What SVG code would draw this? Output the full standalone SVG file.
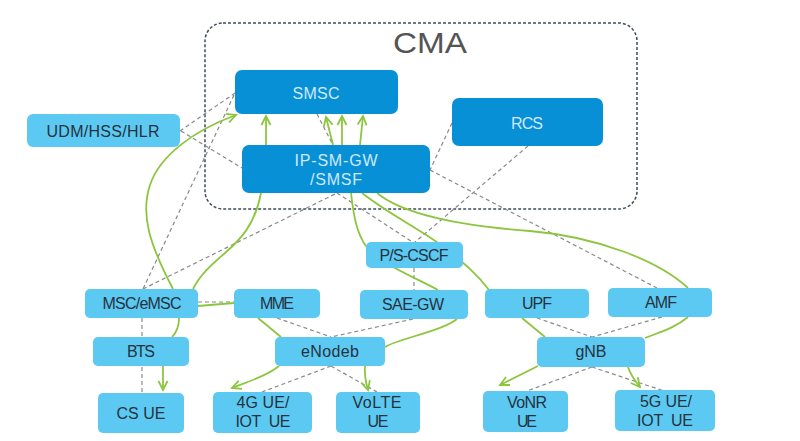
<svg xmlns="http://www.w3.org/2000/svg" width="800" height="441" viewBox="0 0 800 441">
<defs>
<style>
.dark{fill:#0890d6}
.light{fill:#5cc9f2}
.tl{font-family:"Liberation Sans",Arial,sans-serif;font-size:16px;fill:#25323d;text-anchor:middle}
.td{font-family:"Liberation Sans",Arial,sans-serif;font-size:16px;fill:#cfe9fa;text-anchor:middle}
.g{fill:none;stroke:#8cc63f;stroke-width:1.8}
.d{fill:none;stroke:#8a8a8a;stroke-width:1.2;stroke-dasharray:4 3}
.ga{marker-end:url(#arr)}
</style>
<marker id="arr" markerUnits="userSpaceOnUse" markerWidth="12" markerHeight="12" viewBox="0 0 12 12" refX="10" refY="6" orient="auto">
<path d="M1,1.5 L10,6 L1,10.5" fill="none" stroke="#8cc63f" stroke-width="1.8"/>
</marker>
</defs>
<rect width="800" height="441" fill="#ffffff"/>
<g id="cma">
<rect x="205" y="23" width="432" height="186" rx="18" fill="none" stroke="#3e4c5c" stroke-width="1.5" stroke-dasharray="3 2"/>
<text x="430" y="53" font-family="Liberation Sans,Arial,sans-serif" font-size="29" fill="#555" text-anchor="middle" textLength="74" lengthAdjust="spacingAndGlyphs">CMA</text>
</g>
<g id="connectors">
<path class="d" d="M180 131 L235 93"/>
<path class="d" d="M181 131 L242 168"/>
<path class="d" d="M234 95 L143 289"/>
<path class="d" d="M143 289 L337 193"/>
<path class="d" d="M337 193 L414 243"/>
<path class="d" d="M528 146 L414 243"/>
<path class="d" d="M452 123 L430 170"/>
<path class="d" d="M430 170 L657 288"/>
<path class="d" d="M317 114 L333 145"/>
<path class="d" d="M198 302 L234 302"/>
<path class="d" d="M142 318 L142 393"/>
<path class="d" d="M414 268 L414 290"/>
<path class="d" d="M277 318 L331 337"/>
<path class="d" d="M413 319 L331 337"/>
<path class="d" d="M331 366 L262 392"/>
<path class="d" d="M331 366 L377 392"/>
<path class="d" d="M537 318 L592 337"/>
<path class="d" d="M662 317 L592 337"/>
<path class="d" d="M592 367 L527 391"/>
<path class="d" d="M592 367 L664 391"/>
<path class="g ga" d="M266 145 L266 116"/>
<path class="g ga" d="M333 145 L326 117"/>
<path class="g ga" d="M342 145 L342 116"/>
<path class="g ga" d="M360 145 L363 116"/>
<path class="g ga" d="M173 289 C150 245 140 215 150 185 C160 155 195 130 236 115"/>
<path class="g" d="M261 193 C255 225 240 240 225 253 C210 266 200 275 193 289"/>
<path class="g" d="M198 306 L234 303"/>
<path class="g" d="M179 318 C179 328 176 333 172 337"/>
<path class="g ga" d="M163 366 L163 390"/>
<path class="g" d="M258 318 L281 337"/>
<path class="g ga" d="M279 366 C268 375 250 381 232 388"/>
<path class="g ga" d="M365 366 C364 376 366 383 368 390"/>
<path class="g" d="M457 319 C440 332 400 338 385 347"/>
<path class="g" d="M351 193 C354 220 358 240 372 253 C386 266 420 280 438 290"/>
<path class="g" d="M362 193 C390 215 425 232 445 248 C465 264 478 275 489 290"/>
<path class="g" d="M377 193 C400 212 450 225 530 231 C600 237 660 262 688 288"/>
<path class="g" d="M688 317 C675 328 660 332 645 338"/>
<path class="g" d="M522 318 L545 337"/>
<path class="g ga" d="M538 366 L500 385"/>
<path class="g ga" d="M628 367 C631 376 635 381 640 387"/>
</g>
<g id="smsc"><rect class="dark" x="235" y="70" width="163" height="44" rx="7"/><text class="td" x="316" y="99" textLength="47">SMSC</text></g>
<g id="rcs"><rect class="dark" x="452" y="98" width="151" height="48" rx="7"/><text class="td" x="527" y="129" textLength="32">RCS</text></g>
<g id="ipsmgw"><rect class="dark" x="242" y="145" width="188" height="48" rx="7"/><text class="td" x="336" y="166" textLength="83">IP-SM-GW</text><text class="td" x="336" y="185" textLength="52">/SMSF</text></g>
<g id="udm"><rect class="light" x="27" y="114" width="153" height="33" rx="6"/><text class="tl" x="103" y="137" textLength="113">UDM/HSS/HLR</text></g>
<g id="pscscf"><rect class="light" x="366" y="242" width="97" height="26" rx="5"/><text class="tl" x="414" y="261" textLength="69">P/S-CSCF</text></g>
<g id="msc"><rect class="light" x="85" y="289" width="113" height="29" rx="5"/><text class="tl" x="142" y="309" textLength="79">MSC/eMSC</text></g>
<g id="mme"><rect class="light" x="234" y="289" width="86" height="29" rx="5"/><text class="tl" x="277" y="309" textLength="34">MME</text></g>
<g id="saegw"><rect class="light" x="360" y="290" width="108" height="29" rx="5"/><text class="tl" x="413" y="310" textLength="62">SAE-GW</text></g>
<g id="upf"><rect class="light" x="485" y="289" width="104" height="29" rx="5"/><text class="tl" x="537" y="309" textLength="30">UPF</text></g>
<g id="amf"><rect class="light" x="608" y="288" width="104" height="29" rx="5"/><text class="tl" x="661" y="308" textLength="32">AMF</text></g>
<g id="bts"><rect class="light" x="93" y="337" width="96" height="29" rx="5"/><text class="tl" x="141" y="357" textLength="28">BTS</text></g>
<g id="enodeb"><rect class="light" x="275" y="337" width="110" height="29" rx="5"/><text class="tl" x="330" y="357" textLength="58">eNodeb</text></g>
<g id="gnb"><rect class="light" x="537" y="337" width="108" height="30" rx="5"/><text class="tl" x="591" y="357" textLength="31">gNB</text></g>
<g id="csue"><rect class="light" x="98" y="393" width="86" height="40" rx="5"/><text class="tl" x="141" y="419">CS UE</text></g>
<g id="ue4g"><rect class="light" x="213" y="392" width="99" height="41" rx="5"/><text class="tl" x="263" y="408" textLength="53">4G UE/</text><text class="tl" x="263" y="427" textLength="55" xml:space="preserve">IOT  UE</text></g>
<g id="volte"><rect class="light" x="336" y="392" width="84" height="41" rx="5"/><text class="tl" x="377" y="408" textLength="49">VoLTE</text><text class="tl" x="378" y="427" textLength="21">UE</text></g>
<g id="vonr"><rect class="light" x="483" y="391" width="85" height="41" rx="5"/><text class="tl" x="527" y="408" textLength="40">VoNR</text><text class="tl" x="527" y="427" textLength="20">UE</text></g>
<g id="ue5g"><rect class="light" x="615" y="390" width="100" height="41" rx="5"/><text class="tl" x="666" y="407" textLength="52">5G UE/</text><text class="tl" x="665" y="426" textLength="56" xml:space="preserve">IOT  UE</text></g>
</svg>
